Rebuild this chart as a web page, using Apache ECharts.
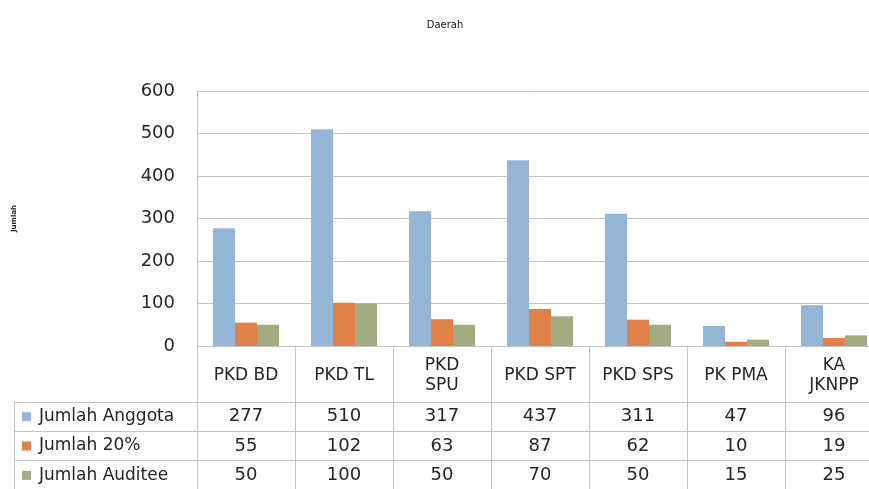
<!DOCTYPE html>
<html>
<head>
<meta charset="utf-8">
<script src="https://cdn.jsdelivr.net/npm/echarts@6/dist/echarts.min.js"></script>
<style>html,body{margin:0;padding:0;background:#fff;overflow:hidden}#c{width:869px;height:489px}</style>
</head>
<body>
<div id="c"></div>
<script>
var categories = ["PKD BD", "PKD TL", "PKD\nSPU", "PKD SPT", "PKD SPS", "PK PMA", "KA\nJKNPP"];
var seriesNames = ["Jumlah Anggota", "Jumlah 20%", "Jumlah Auditee"];
var jumlahAnggota = [277, 510, 317, 437, 311, 47, 96];
var jumlah20 = [55, 102, 63, 87, 62, 10, 19];
var jumlahAuditee = [50, 100, 50, 70, 50, 15, 25];
var yMin = 0, yMax = 600, yStep = 100;
var titleText = "Daerah";
var yName = "Jumlah";

var colors = ["#94b5d6", "#e0814a", "#a3ac80"];
var FONT = "DejaVu Sans";
var txt = "#262626";
var lineC = "#c4c4c4";
var allSeries = [jumlahAnggota, jumlah20, jumlahAuditee];

var cells = [];
allSeries.forEach(function (arr, r) {
  arr.forEach(function (v, c) { cells.push([c, r, v]); });
});

var rich = { t: { fontFamily: FONT, fontSize: 17, color: txt, padding: [0, 0, 0, 8] } };
colors.forEach(function (col, i) {
  rich["s" + i] = { width: 9, height: 9, backgroundColor: col };
});

var chart = echarts.init(document.getElementById('c'));
chart.setOption({
  animation: false,
  color: colors,
  title: {
    text: titleText, left: 440, top: 15, textAlign: 'center',
    textStyle: { fontFamily: FONT, fontSize: 10, fontWeight: 'normal', color: '#111' }
  },
  grid: [
    { left: 197, width: 686, top: 91, height: 255, outerBoundsMode: 'none', containLabel: false },
    { left: 197, width: 686, top: 402, height: 88, outerBoundsMode: 'none', containLabel: false },
    { left: 14, width: 183, top: 402, height: 88, outerBoundsMode: 'none', containLabel: false }
  ],
  xAxis: [
    {
      gridIndex: 0, type: 'category', data: categories,
      axisLine: { lineStyle: { color: lineC } },
      axisTick: { show: true, length: 56, interval: 0, lineStyle: { color: lineC } },
      axisLabel: { interval: 0, margin: 30, verticalAlign: 'middle', fontFamily: FONT, fontSize: 17, color: txt, lineHeight: 20 }
    },
    {
      gridIndex: 1, type: 'category', data: categories, position: 'top',
      axisLine: { show: true, lineStyle: { color: lineC } },
      axisTick: { show: false }, axisLabel: { show: false },
      splitLine: { show: true, interval: 0, lineStyle: { color: lineC } }
    },
    {
      gridIndex: 2, type: 'category', data: [''], position: 'top',
      axisLine: { show: true, lineStyle: { color: lineC } },
      axisTick: { show: false }, axisLabel: { show: false },
      splitLine: { show: false }
    }
  ],
  yAxis: [
    {
      gridIndex: 0, type: 'value', min: yMin, max: yMax, interval: yStep,
      name: yName, nameLocation: 'middle', nameGap: 179, nameRotate: 90,
      nameTextStyle: { fontFamily: FONT, fontSize: 7, fontWeight: 'bold', color: '#222' },
      axisLine: { show: true, lineStyle: { color: lineC } },
      axisTick: { show: false },
      axisLabel: { margin: 22, fontFamily: FONT, fontSize: 18, color: txt },
      splitLine: { show: true, lineStyle: { color: lineC } }
    },
    {
      gridIndex: 1, type: 'category', data: seriesNames, inverse: true,
      axisLine: { show: false }, axisTick: { show: false },
      axisLabel: {
        interval: 0, margin: 175, align: 'left',
        formatter: function (v, i) { return '{s' + i + '|}{t|' + v + '}'; },
        rich: rich
      },
      splitLine: { show: true, interval: 0, lineStyle: { color: lineC } }
    },
    {
      gridIndex: 2, type: 'category', data: seriesNames, inverse: true,
      axisLine: { show: true, lineStyle: { color: lineC } }, axisTick: { show: false },
      axisLabel: { show: false },
      splitLine: { show: true, interval: 0, lineStyle: { color: lineC } }
    }
  ],
  series: [
    { name: seriesNames[0], type: 'bar', xAxisIndex: 0, yAxisIndex: 0, data: jumlahAnggota, barWidth: 22, barGap: '0%' },
    { name: seriesNames[1], type: 'bar', xAxisIndex: 0, yAxisIndex: 0, data: jumlah20, barWidth: 22, barGap: '0%' },
    { name: seriesNames[2], type: 'bar', xAxisIndex: 0, yAxisIndex: 0, data: jumlahAuditee, barWidth: 22, barGap: '0%' },
    {
      type: 'scatter', xAxisIndex: 1, yAxisIndex: 1, data: cells, symbolSize: 0, silent: true,
      itemStyle: { opacity: 1 },
      label: {
        show: true, position: 'inside',
        formatter: function (p) { return p.value[2]; },
        fontFamily: FONT, fontSize: 18, color: txt, textBorderWidth: 0
      }
    }
  ]
});
</script>
</body>
</html>
